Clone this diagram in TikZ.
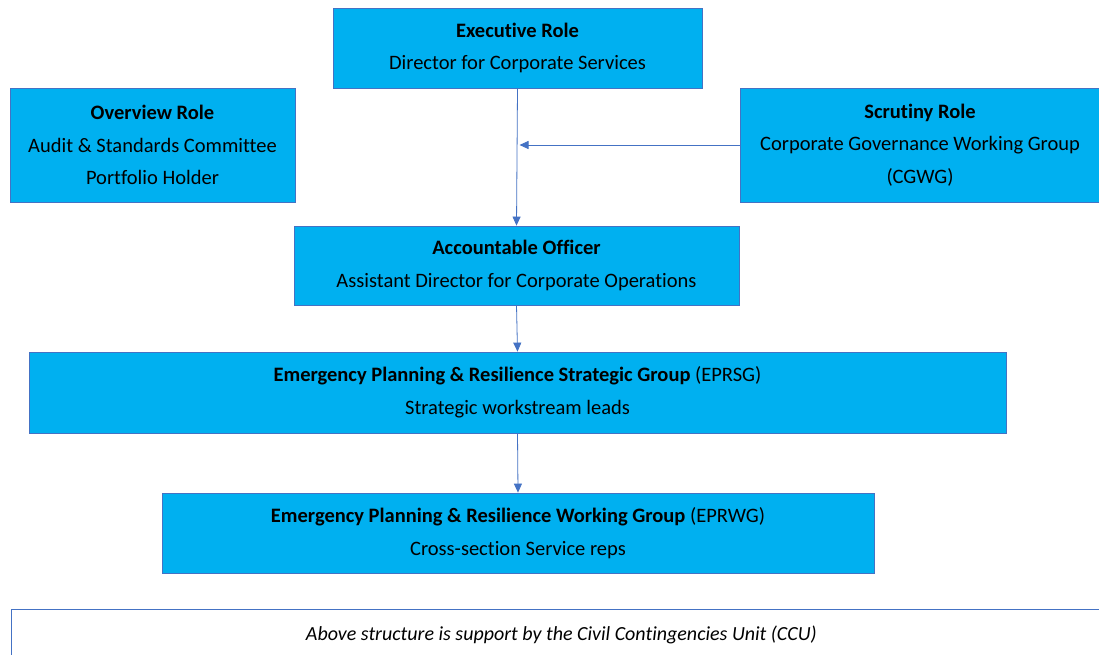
\documentclass[tikz,border=0pt]{standalone}
\usepackage{fontspec}
\setmainfont{Carlito}[Ligatures=NoCommon]
\usepackage{xcolor}
\usepackage{tikz}
\usetikzlibrary{arrows.meta}
\definecolor{boxfill}{HTML}{00B0F0}
\definecolor{lineblue}{HTML}{4472C4}
\tikzset{role box/.style={rectangle,fill=boxfill,draw=lineblue,line width=0.8pt,align=center,inner sep=0pt,font=\fontsize{20.5}{32.5}\selectfont},
	note box/.style={rectangle,fill=white,draw=lineblue,line width=0.8pt,align=center,inner sep=0pt,font=\fontsize{20}{24}\selectfont\itshape},
	link/.style={color=lineblue,line width=0.8pt,-{Triangle[length=9pt,width=8pt]}},}

\begin{document}
\begin{tikzpicture}[x=1pt,y=-1pt]
	\useasboundingbox[fill=white] (0,0) rectangle (1099,654);

    \node[role box,minimum width=369pt,minimum height=80pt] (exec) at (517.5,48) {\textbf{Executive Role}\\Director for Corporate Services};
    \node[role box,minimum width=285pt,minimum height=114pt] (over) at (152.5,145) {\textbf{Overview Role}\\Audit \& Standards Committee\\Portfolio Holder};
    \node[role box,minimum width=360pt,minimum height=114pt] (scru) at (920,145) {\textbf{Scrutiny Role}\\Corporate Governance Working Group\\(CGWG)};
    \node[role box,minimum width=445pt,minimum height=79pt] (acc) at (516.5,265.5) {\textbf{Accountable Officer}\\Assistant Director for Corporate Operations};
    \node[role box,minimum width=977pt,minimum height=81pt] (eprsg) at (517.5,392.5) {\textbf{Emergency Planning \& Resilience Strategic Group} (EPRSG)\\Strategic workstream leads};
    \node[role box,minimum width=712pt,minimum height=80pt] (eprwg) at (518,533) {\textbf{Emergency Planning \& Resilience Working Group} (EPRWG)\\Cross-section Service reps};

    % support unit, runs off the page edge
    \node[note box,anchor=north west,minimum width=1100pt,minimum height=50pt] (ccu) at (11,609) {Above structure is support by the Civil Contingencies Unit (CCU)};

    \coordinate (join) at (exec.south |- scru.west);

    \draw[link] (exec.south) -- (acc.north);
    \draw[link] (scru.west) -- ([xshift=2pt]join);
    \draw[link] (acc.south) -- (eprsg.north);
    \draw[link] (eprsg.south) -- (eprwg.north);
\end{tikzpicture}
\end{document}
